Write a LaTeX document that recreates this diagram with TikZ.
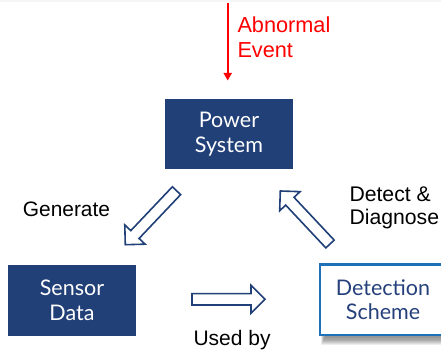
\documentclass[tikz,border=0pt]{standalone}
\usepackage{fontspec}
\setmainfont{Liberation Sans}
\newfontfamily\boxfont{Lato}
\usetikzlibrary{calc,arrows.meta}
\definecolor{navy}{RGB}{33,64,120}
\definecolor{schemeblue}{RGB}{30,112,184}
\definecolor{schemetext}{RGB}{38,64,124}
\definecolor{evred}{RGB}{255,0,0}
\tikzset{
  box/.style={minimum width=128pt, minimum height=70.5pt, inner sep=0pt, align=center,
    font=\boxfont\fontsize{21.5}{24.5}\selectfont},
  darkbox/.style={box, fill=navy, text=white},
  lightbox/.style={box, draw=schemeblue, line width=2.3pt, fill=white, text=schemetext,
    minimum width=125.7pt, minimum height=70.4pt},
  caption/.style={inner sep=0pt, align=left},
  blockarr/.style={draw=navy, line width=1.6pt, fill=white, line join=miter},
}
\newcommand\blockarrow[2]{%
  \coordinate (#2-base) at ($(#2)!14pt!(#1)$);
  \draw[blockarr]
    ($(#1)!5.7pt!90:(#2)$) -- ($(#2-base)!5.7pt!90:(#2)$) --
    ($(#2-base)!14pt!90:(#2)$) -- (#2) --
    ($(#2-base)!14pt!-90:(#2)$) -- ($(#2-base)!5.7pt!-90:(#2)$) --
    ($(#1)!5.7pt!-90:(#2)$) -- cycle;
}
\begin{document}
\begin{tikzpicture}[x=1pt,y=-1pt]
\useasboundingbox (0,0) rectangle (441,350);
\fill[white] (0,0) rectangle (441,350);
\fill[gray!8] (0,0) rectangle (441,2);

% boxes
\node[darkbox] (ps) at (228.9,134.2) {Power\\System};
\node[darkbox] (sd) at (72,300.3) {Sensor\\Data};
\foreach \i in {0,...,6}
  \fill[black, opacity=0.07] (321+\i*0.6, 280) rectangle (460, 345-\i*1.1);
\node[lightbox] (ds) at (383,299.7) {Detection\\Scheme};

% abnormal event
\coordinate (ev-t) at (227.7,3);
\coordinate (ev-h) at (227.7,80.5);
\draw[evred, line width=2.1pt, -{Triangle[length=7.5pt,width=8pt]}] (ev-t) -- (ev-h);
\node[caption, anchor=north west, text=evred, font=\fontsize{21.7}{25.4}\selectfont]
  (evl) at (237.3,16.5) {Abnormal\\Event};

% block arrows
\coordinate (gen-t) at (176.5,190.7);
\coordinate (gen-h) at (125.3,244.7);
\blockarrow{gen-t}{gen-h}
\coordinate (det-t) at (330,244);
\coordinate (det-h) at (280.3,191);
\blockarrow{det-t}{det-h}
\coordinate (use-t) at (192,299.3);
\coordinate (use-h) at (265,299.3);
\blockarrow{use-t}{use-h}

% labels
\node[caption, anchor=base west, font=\fontsize{20.9}{23}\selectfont] (genl) at (22.7,216) {Generate};
\node[caption, anchor=north west, font=\fontsize{21.2}{22.8}\selectfont] (detl) at (349.3,187) {Detect \&\\Diagnose};
\node[caption, anchor=base west, font=\fontsize{21}{24}\selectfont] (usel) at (193.3,345) {Used by};
\end{tikzpicture}
\end{document}
